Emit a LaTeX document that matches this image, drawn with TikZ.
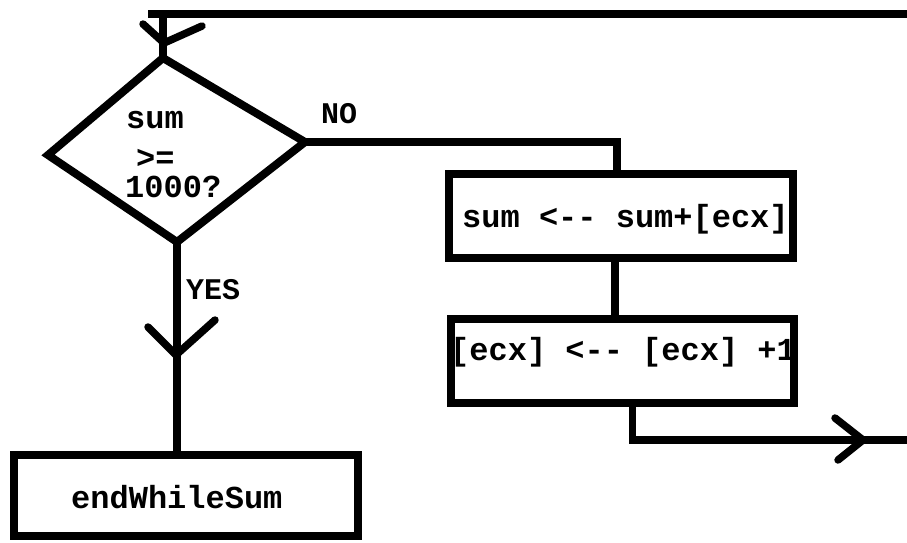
\documentclass[tikz,border=0pt]{standalone}
\usepackage{fontspec}
\usetikzlibrary{calc}
\newfontfamily\codefont{Liberation Mono}
\begin{document}
\begin{tikzpicture}[x=1pt,y=-1pt,
  flow/.style={line width=7.5pt,line join=miter},
  chev/.style={line width=7.5pt,line cap=round,line join=round},
  stepbox/.style={draw,line width=8pt,rectangle,inner sep=0pt},
  code/.style={font=\codefont\bfseries\fontsize{32}{36}\selectfont,inner sep=0pt,anchor=base west},
  tag/.style={font=\codefont\bfseries\fontsize{#1}{#1}\selectfont,inner sep=0pt,anchor=base west},
]
\useasboundingbox (0,0) rectangle (907,542);

% decision diamond
\coordinate (dT) at (163,58);
\coordinate (dL) at (48,155);
\coordinate (dR) at (305,142);
\coordinate (dB) at (177,242);
\draw[line width=8pt,line join=miter] (dT) -- (dR) -- (dB) -- (dL) -- cycle;
\node[code] (c1) at (126,128) {sum};
\node[code] (c2) at (136,168) {>=};
\node[code] (c3) at (125,197) {1000?};

% process boxes
\node[stepbox,minimum width=344pt,minimum height=84pt] (add) at (621,216) {};
\node[code] (addtxt) at (462,227) {sum <-- sum+[ecx]};
\node[stepbox,minimum width=343pt,minimum height=84pt] (inc) at (622.5,361) {};
\node[code] (inctxt) at (450,360) {[ecx] <-- [ecx] +1};
\node[stepbox,minimum width=344pt,minimum height=81pt] (done) at (186,495.5) {};
\node[code] (donetxt) at (71,508) {endWhileSum};

% branch labels
\node[tag=30] (no) at (321,123) {NO};
\node[tag=30] (yes) at (186,299) {YES};

% loop entry from the top
\coordinate (loopin) at (907,14);
\coordinate (loopcorner) at (148,14);
\coordinate (entry) at (163,14);
\draw[flow] (loopin) -- (loopcorner);
\draw[flow] (entry) -- (dT);
\coordinate (tipT) at (164,43);
\draw[chev] ($(tipT)+(-21,-19)$) -- (tipT) -- ($(tipT)+(38,-17)$);

% NO branch
\draw[flow] (dR) -| ([xshift=-4pt]add.north);
\draw[flow] ([xshift=-6pt]add.south) -- ([xshift=-6pt]add.south |- inc.north);

% exit of the loop body
\coordinate (loopout) at (907,440);
\draw[flow] ([xshift=10pt]inc.south) |- (loopout);
\coordinate (tipR) at (863,440);
\draw[chev] ($(tipR)+(-28,-22)$) -- (tipR) -- ($(tipR)+(-25,20)$);

% YES branch
\draw[flow] (dB) -- ([xshift=-9pt]done.north);
\coordinate (tipY) at (176,355);
\draw[chev] ($(tipY)+(-28,-28)$) -- (tipY) -- ($(tipY)+(39,-35)$);
\end{tikzpicture}
\end{document}
